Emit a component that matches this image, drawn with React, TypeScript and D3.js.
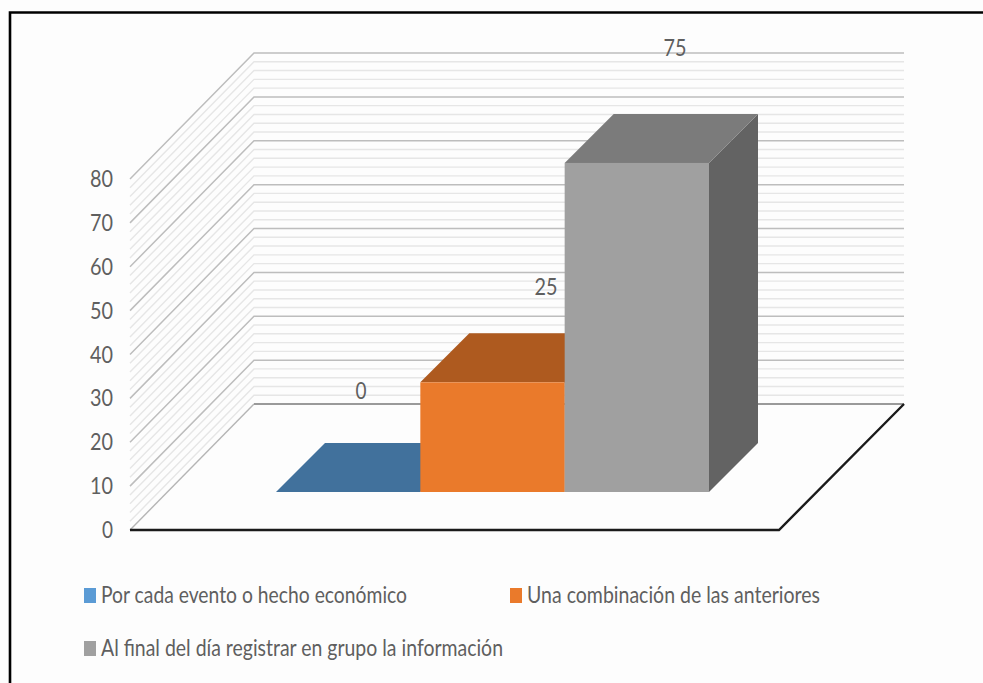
import React from "react";
import * as d3 from "d3";

const categories = [
  "Por cada evento o hecho económico",
  "Una combinación de las anteriores",
  "Al final del día registrar en grupo la información",
];
const values = [0, 25, 75];
const frontColors = ["#5b9bd5", "#ea7a2b", "#a0a0a0"];
const topColors = ["#41719c", "#ae5a1f", "#7b7b7b"];
const sideColors = ["#3a6488", "#9a4f1c", "#636363"];
const majorTicks = d3.range(0, 90, 10);
const minorTicks = d3.range(0, 80.1, 2).filter((v) => v % 10 !== 0);

const FONT = "Lato, 'Open Sans', sans-serif";
const TEXT = "#5f5f5f";

// Value scale measured on the front plane of the chart
const yFront = d3.scaleLinear().domain([0, 80]).range([530, 179]);
const yBar = d3.scaleLinear().domain([0, 80]).range([492, 141]);
const xBand = d3.scaleBand<number>().domain([0, 1, 2]).range([276, 709]);
const depth = d3.scaleLinear().domain([0, 1]).range([0, 49]);
// wall depth
const wallDX = 124;
const wallDY = -126;

const pts = (p: [number, number][]) => p.map((q) => q.join(",")).join(" ");

const legendItems = [
  { x: 84, y: 588, tx: 101, tw: 306, by: 603 },
  { x: 510, y: 588, tx: 527, tw: 293, by: 603 },
  { x: 84, y: 641, tx: 101, tw: 402, by: 656 },
];

const dataLabels = [
  { x: 361, y: 399 },
  { x: 546, y: 295 },
  { x: 675, y: 56 },
];

export default function App() {
  const wallLine = (v: number) => {
    const y = yFront(v);
    return pts([
      [130, y],
      [130 + wallDX, y + wallDY],
      [904, y + wallDY],
    ]);
  };
  return (
    <svg
      width={983}
      height={683}
      style={{ position: "fixed", left: 0, top: 0, display: "block", background: "#fdfdfd" }}
    >
      <rect x={0} y={0} width={983} height={683} fill="#fdfdfd" />
      <path d="M10 683V12.5H983" fill="none" stroke="#000" strokeWidth={2.6} />

      {minorTicks.map((v) => (
        <polyline key={v} points={wallLine(v)} fill="none" stroke="#e6e6e6" strokeWidth={1.4} />
      ))}
      {majorTicks.slice(1).map((v) => (
        <polyline key={v} points={wallLine(v)} fill="none" stroke="#bdbdbd" strokeWidth={1.5} />
      ))}
      <polygon
        points={pts([
          [130, 530],
          [130 + wallDX, 530 + wallDY],
          [904, 530 + wallDY],
          [779, 530],
        ])}
        fill="#fdfdfd"
      />
      <polyline points={pts([[130, 530], [254, 404]])} fill="none" stroke="#b5b5b5" strokeWidth={1.4} />
      <line x1={254} x2={904} y1={404} y2={404} stroke="#9a9a9a" strokeWidth={1.8} />
      <polyline points={pts([[130, 530], [779, 530], [904, 404]])} fill="none" stroke="#1a1a1a" strokeWidth={2.4} />

      {majorTicks.map((v) => (
        <text key={v} x={113} y={yFront(v) + 8} fontFamily={FONT} fontSize={24} fill={TEXT} textAnchor="end" textLength={v === 0 ? 11 : 23} lengthAdjust="spacingAndGlyphs">
          {v}
        </text>
      ))}

      {values.map((v, i) => {
        const x0 = xBand(i)!;
        const x1 = x0 + xBand.bandwidth();
        const yB = yBar(0);
        const yT = yBar(v);
        const d = depth(1);
        return (
          <g key={i}>
            {v > 0 && (
              <polygon points={pts([[x1, yT], [x1 + d, yT - d], [x1 + d, yB - d], [x1, yB]])} fill={sideColors[i]} />
            )}
            <polygon points={pts([[x0, yT], [x0 + d, yT - d], [x1 + d, yT - d], [x1, yT]])} fill={topColors[i]} />
            {v > 0 && <rect x={x0} y={yT} width={x1 - x0} height={yB - yT} fill={frontColors[i]} />}
          </g>
        );
      })}

      {values.map((v, i) => (
        <text key={i} x={dataLabels[i].x} y={dataLabels[i].y} fontFamily={FONT} fontSize={24} fill={TEXT} textAnchor="middle" textLength={v === 0 ? 11 : 23} lengthAdjust="spacingAndGlyphs">
          {v}
        </text>
      ))}

      {categories.map((c, i) => {
        const l = legendItems[i];
        return (
          <g key={c}>
            <rect x={l.x} y={l.y} width={12} height={15} fill={frontColors[i]} />
            <text x={l.tx} y={l.by} fontFamily={FONT} fontSize={24} fill={TEXT} textLength={l.tw} lengthAdjust="spacingAndGlyphs">
              {c}
            </text>
          </g>
        );
      })}
    </svg>
  );
}
